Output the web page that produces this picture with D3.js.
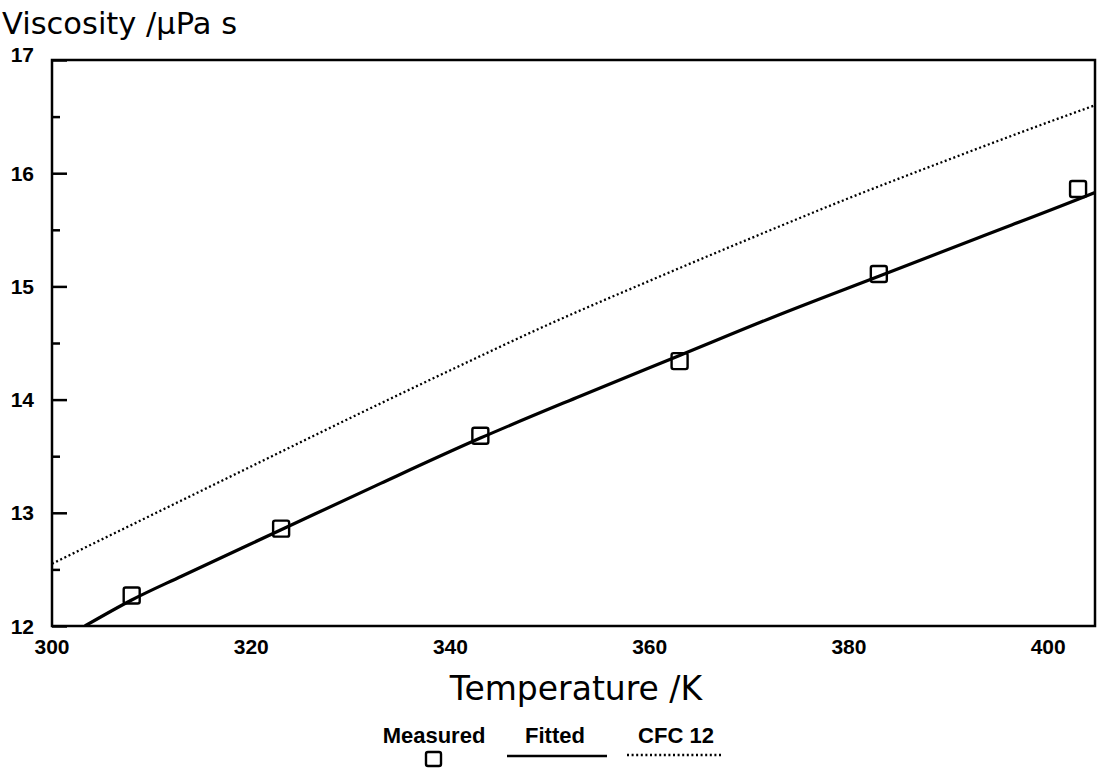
<!DOCTYPE html>
<html>
<head>
<meta charset="utf-8">
<script src="https://cdn.jsdelivr.net/npm/d3@7"></script>
<style>
  html, body { margin: 0; padding: 0; background: #fff; }
  svg { display: block; }
  text { font-family: "Liberation Sans", Arial, Helvetica, sans-serif; fill: #000; }
  .title { font-family: "DejaVu Sans", "Liberation Sans", sans-serif; }
</style>
</head>
<body>
<svg id="chart" width="1099" height="768"></svg>
<script>
// ---- data ----
const measuredT = [308, 323, 343, 363, 383, 403];
const measuredV = [12.27, 12.86, 13.68, 14.34, 15.11, 15.86];

const fittedT = [303.3, 308, 313, 323, 333, 343, 353, 363, 373, 383, 393, 403, 404.7];
const fittedV = [12.0, 12.23, 12.44, 12.85, 13.26, 13.66, 14.03, 14.39, 14.75, 15.09, 15.43, 15.77, 15.83];

const cfcT = [300, 310, 320, 330, 340, 350, 360, 370, 380, 390, 400, 404.7];
const cfcV = [12.55, 12.98, 13.41, 13.84, 14.26, 14.67, 15.05, 15.42, 15.78, 16.12, 16.45, 16.60];

const xTicks = [300, 320, 340, 360, 380, 400];
const yTicks = [12, 13, 14, 15, 16, 17];
const yMinorTicks = [12.5, 13.5, 14.5, 15.5, 16.5];

const xDomain = [300, 404.7];
const yDomain = [12, 17];

const yTitle = "Viscosity /\u00b5Pa s";
const xTitle = "Temperature /K";
const legendLabels = ["Measured", "Fitted", "CFC 12"];

// ---- layout ----
const L = 52, R = 1095, T = 60, B = 626;
const svg = d3.select("#chart");
const x = d3.scaleLinear().domain(xDomain).range([L, R]);
const y = d3.scaleLinear().domain(yDomain).range([B, T]);

svg.append("defs").append("clipPath").attr("id", "plotclip")
  .append("rect").attr("x", L).attr("y", T).attr("width", R - L).attr("height", B - T);

// y axis ticks (inward)
const yAxis = d3.axisRight(y).tickValues(yTicks).tickSize(15).tickFormat("");
svg.append("g").attr("transform", `translate(${L},0)`).call(yAxis)
  .call(g => g.select(".domain").remove())
  .call(g => g.selectAll("line").attr("stroke", "#000").attr("stroke-width", 2.5));
const yAxisMinor = d3.axisRight(y).tickValues(yMinorTicks).tickSize(8).tickFormat("");
svg.append("g").attr("transform", `translate(${L},0)`).call(yAxisMinor)
  .call(g => g.select(".domain").remove())
  .call(g => g.selectAll("line").attr("stroke", "#000").attr("stroke-width", 2.5));

// y tick labels
svg.append("g").selectAll("text").data(yTicks).join("text")
  .attr("x", 34).attr("y", d => y(d) - (d === 17 ? 6 : 0)).attr("dy", "0.36em")
  .attr("text-anchor", "end").attr("font-size", 21).attr("font-weight", "bold")
  .text(d => d);

// x tick labels
svg.append("g").selectAll("text").data(xTicks).join("text")
  .attr("x", d => x(d)).attr("y", 654)
  .attr("text-anchor", "middle").attr("font-size", 21).attr("font-weight", "bold")
  .text(d => d);

// frame
svg.append("rect").attr("x", L).attr("y", T).attr("width", R - L).attr("height", B - T)
  .attr("fill", "none").attr("stroke", "#000").attr("stroke-width", 2.5);

// lines
const line = d3.line().x(d => x(d[0])).y(d => y(d[1])).curve(d3.curveMonotoneX);
const plot = svg.append("g").attr("clip-path", "url(#plotclip)");
plot.append("path").datum(d3.zip(cfcT, cfcV)).attr("d", line)
  .attr("fill", "none").attr("stroke", "#000").attr("stroke-width", 2.3)
  .attr("stroke-dasharray", "2,2.6");
plot.append("path").datum(d3.zip(fittedT, fittedV)).attr("d", line)
  .attr("fill", "none").attr("stroke", "#000").attr("stroke-width", 3.2);

// measured squares
const S = 16;
svg.append("g").selectAll("rect").data(d3.zip(measuredT, measuredV)).join("rect")
  .attr("x", d => x(d[0]) - S / 2).attr("y", d => y(d[1]) - S / 2)
  .attr("width", S).attr("height", S).attr("rx", 2)
  .attr("fill", "none").attr("stroke", "#000").attr("stroke-width", 2.4);

// titles
svg.append("text").attr("class", "title").attr("x", 2).attr("y", 34).attr("font-size", 30.5).text(yTitle);
svg.append("text").attr("class", "title").attr("x", 576).attr("y", 700).attr("text-anchor", "middle")
  .attr("font-size", 33).text(xTitle);

// legend
const lg = svg.append("g");
const lgX = [434, 555, 676];
lg.selectAll("text").data(legendLabels).join("text")
  .attr("x", (d, i) => lgX[i]).attr("y", 743).attr("text-anchor", "middle")
  .attr("font-size", 22).attr("font-weight", "bold").text(d => d);
lg.append("rect").attr("x", 433 - 7).attr("y", 752).attr("width", 15).attr("height", 14).attr("rx", 2)
  .attr("fill", "none").attr("stroke", "#000").attr("stroke-width", 2.4);
lg.append("line").attr("x1", 507).attr("x2", 607).attr("y1", 756).attr("y2", 756)
  .attr("stroke", "#000").attr("stroke-width", 2.5);
lg.append("line").attr("x1", 627).attr("x2", 723).attr("y1", 755).attr("y2", 755)
  .attr("stroke", "#000").attr("stroke-width", 2.3).attr("stroke-dasharray", "2,2.6");
</script>
</body>
</html>
